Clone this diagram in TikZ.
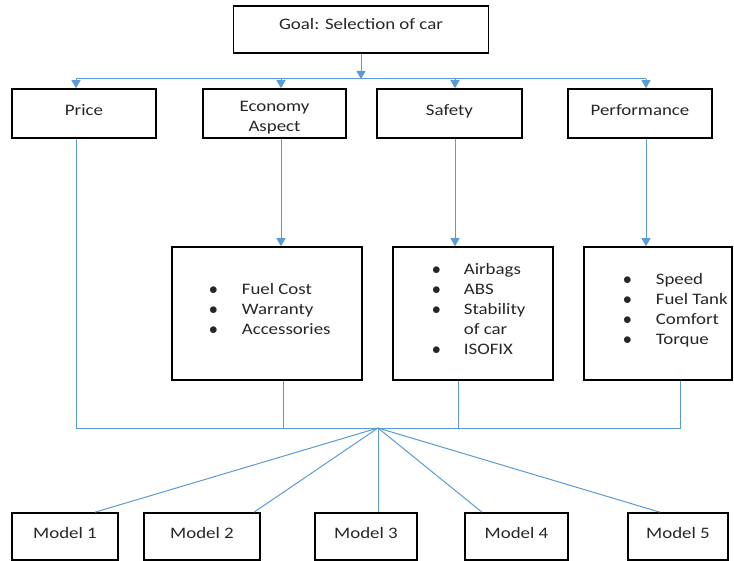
\documentclass[tikz,border=0pt]{standalone}
\usepackage{fontspec}
\setmainfont{Carlito}[FakeStretch=1.18]
\usepackage{tikz}
\usetikzlibrary{arrows.meta}
\definecolor{lineblue}{RGB}{91,155,213}
\definecolor{ink}{RGB}{38,38,38}
\tikzstyle{goalbox} = [rectangle, minimum width=255pt, minimum height=47pt, text centered, draw=black, line width=1.6pt, text height=11pt, text depth=11pt]
\tikzstyle{crit} = [rectangle, minimum width=144pt, minimum height=49pt, text centered, draw=black, line width=1.6pt]
\tikzstyle{oneline} = [text height=12pt, text depth=8pt]
\tikzstyle{subcrit} = [rectangle, minimum height=133pt, draw=black, line width=1.6pt]
\tikzstyle{model} = [rectangle, minimum height=47pt, text centered, draw=black, line width=1.6pt, text height=12pt, text depth=8pt]
\tikzstyle{items} = [inner sep=0pt, anchor=west]
\tikzstyle{link} = [draw=lineblue, line width=1pt]
\tikzstyle{arrow} = [link, -{Triangle[width=9pt,length=8pt]}]

\begin{document}
\begin{tikzpicture}[x=1pt, y=-1pt, font=\fontsize{16pt}{20pt}\selectfont, text=ink]
	\useasboundingbox (0,0) rectangle (734,561);

	\node (goal) [goalbox] at (361,29.5) {Goal: Selection of car};

	\node (price) [crit, oneline] at (84,113.5) {Price};
	\node (econ) [crit, minimum width=143pt] at (274.5,113.5) {\raisebox{-4pt}[\height][\depth]{\begin{tabular}{@{}c@{}}Economy\\Aspect\end{tabular}}};
	\node (safety) [crit, oneline, minimum width=145pt] at (449.5,113.5) {Safety};
	\node (perf) [crit, oneline] at (640,113.5) {Performance};

	\node (econd) [subcrit, minimum width=190pt] at (267,313.5) {};
	\node (safed) [subcrit, minimum width=160pt] at (473,313.5) {};
	\node (perfd) [subcrit, minimum width=148pt] at (658,313.5) {};

	\node (econlist) [items] at (209,311) {\begin{tabular}{@{}l@{\hspace{24pt}}l@{}}
		$\bullet$ & Fuel Cost\\ $\bullet$ & Warranty\\ $\bullet$ & Accessories\end{tabular}};
	\node (safelist) [items] at (432,311) {\begin{tabular}{@{}l@{\hspace{23pt}}l@{}}
		$\bullet$ & Airbags\\ $\bullet$ & ABS\\ $\bullet$ & Stability\\ & of car\\ $\bullet$ & ISOFIX\end{tabular}};
	\node (perflist) [items] at (623,311) {\begin{tabular}{@{}l@{\hspace{24pt}}l@{}}
		$\bullet$ & Speed\\ $\bullet$ & Fuel Tank\\ $\bullet$ & Comfort\\ $\bullet$ & Torque\end{tabular}};

	\foreach \i/\x/\w in {1/65/106, 2/202/116, 3/366/102, 4/516.5/103, 5/678/100}
		\node (model\i) [model, minimum width=\w pt] at (\x,536.5) {Model \i};

	\coordinate (topbus) at (361,79);
	\coordinate (hub) at (378,428);

	% goal to criteria
	\draw [arrow](goal.south) -- (topbus);
	\foreach \n/\s in {price/-8, econ/6.5, safety/5.5, perf/6}{
		\coordinate (\n-in) at ([xshift=\s pt]\n.north);
		\draw [arrow](\n-in |- topbus) -- (\n-in);
	}
	\draw [link](price-in |- topbus) -- (perf-in |- topbus);

	% criteria to sub-criteria
	\draw [arrow](econ-in |- econ.south) -- (econ-in |- econd.north);
	\draw [arrow](safety-in |- safety.south) -- (safety-in |- safed.north);
	\draw [arrow](perf-in |- perf.south) -- (perf-in |- perfd.north);

	% back to the models
	\coordinate (econ-out) at ([xshift=16pt]econd.south);
	\coordinate (safe-out) at ([xshift=-15pt]safed.south);
	\coordinate (perf-out) at ([xshift=22pt]perfd.south);
	\draw [link](price-in |- price.south) -- (price-in |- hub) -- (perf-out |- hub) -- (perf-out);
	\draw [link](econ-out) -- (econ-out |- hub);
	\draw [link](safe-out) -- (safe-out |- hub);
	\foreach \m/\s in {1/30, 2/52, 3/12, 4/-34.5, 5/-18}
		\draw [link](hub) -- ([xshift=\s pt]model\m.north);
\end{tikzpicture}
\end{document}
